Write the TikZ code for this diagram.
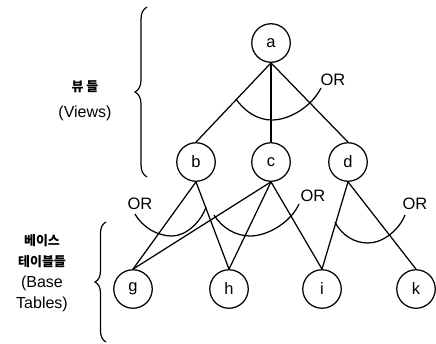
\documentclass[tikz,border=0pt]{standalone}
\usepackage{fontspec}
\setmainfont{Liberation Sans}
\newfontfamily\krfont{Noto Sans CJK KR}
\usetikzlibrary{decorations.pathreplacing}
\tikzset{
  vnode/.style={circle, draw, line width=1.25pt, minimum size=38.5pt, inner sep=0pt, font=\fontsize{16.5}{16}\selectfont},
  edge/.style={line width=1.25pt},
  orarc/.style={line width=1.25pt},
  orlabel/.style={font=\fontsize{16.5}{16}\selectfont, inner sep=0pt},
  sidetext/.style={font=\fontsize{16}{21}\selectfont, align=center, inner sep=0pt},
  krtext/.style={font=\krfont\bfseries\fontsize{13}{21}\selectfont, inner sep=0pt},
  bracestyle/.style={line width=1.2pt, decorate}
}
\begin{document}
\begin{tikzpicture}[x=1pt, y=-1pt]
\useasboundingbox (0,0) rectangle (436,343);
% nodes
\node[vnode] (a) at (271,43) {a};
\node[vnode] (b) at (196,162) {b};
\node[vnode] (c) at (271,162) {c};
\node[vnode] (d) at (348,162) {d};
\node[vnode] (g) at (133,289) {g};
\node[vnode] (h) at (229,289) {h};
\node[vnode] (i) at (322,289) {i};
\node[vnode] (k) at (416,289) {k};
% edges
\draw[edge] (a.south) -- (b.north);
\draw[edge] (a.south) -- (c.north);
\draw[edge] (a.south) -- (d.north);
\draw[edge] (b.south) -- (g.north);
\draw[edge] (b.south) -- (h.north);
\draw[edge] (c.south) -- (g.north);
\draw[edge] (c.south) -- (h.north);
\draw[edge] (c.south) -- (i.north);
\draw[edge] (d.south) -- (i.north);
\draw[edge] (d.south) -- (k.north);
% OR arcs
\draw[orarc] (236,99) .. controls (245,112) and (258,120) .. (272,120) .. controls (290,120) and (312,106) .. (321,88);
\draw[orarc] (135,214) .. controls (143,228) and (158,236) .. (172,236) .. controls (186,236) and (201,222) .. (206,207);
\draw[orarc] (214,215) .. controls (222,228) and (236,236) .. (250,236) .. controls (268,236) and (291,222) .. (299,204);
\draw[orarc] (335,222) .. controls (342,236) and (355,243) .. (368,243) .. controls (383,243) and (399,230) .. (405,215);
% OR labels
\node[orlabel] (or1) at (333,80) {OR};
\node[orlabel] (or2) at (140,204) {OR};
\node[orlabel] (or3) at (313,196) {OR};
\node[orlabel] (or4) at (415,204) {OR};
% braces
\draw[bracestyle, decoration={brace, amplitude=12pt}] (147,177) -- (147,7);
\draw[bracestyle, decoration={brace, amplitude=11pt}] (106,342) -- (106,222);
% side texts
\node[krtext] (v1) at (85,87) {뷰 들};
\node[sidetext] (v2) at (85,113) {(Views)};
\node[krtext] (t1) at (42,241) {베이스};
\node[krtext] (t2) at (42,262) {테이블들};
\node[sidetext] (t3) at (42,283) {(Base};
\node[sidetext] (t4) at (42,304) {Tables)};
\end{tikzpicture}
\end{document}
